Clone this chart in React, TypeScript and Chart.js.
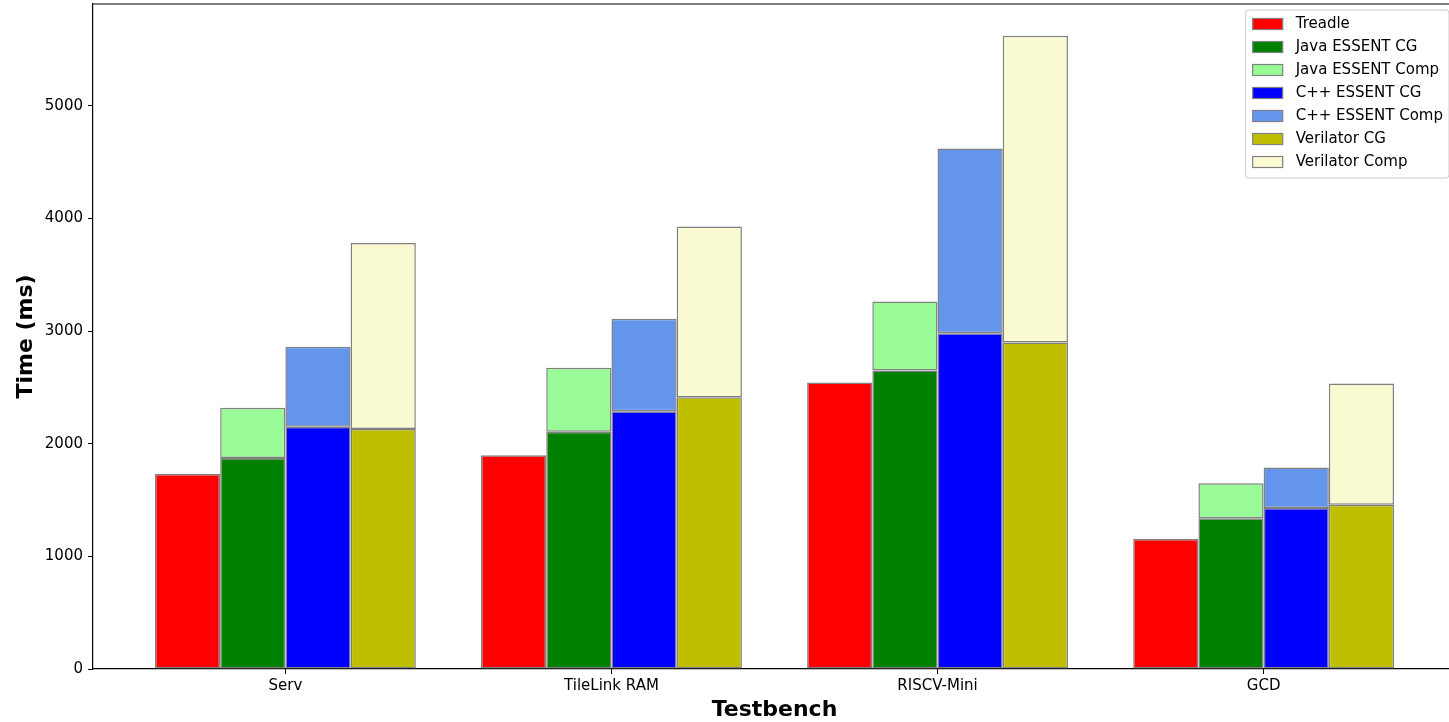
import React, { useEffect, useRef } from 'react';
import { Chart, registerables } from 'chart.js';

Chart.register(...registerables);

const categories = ['Serv', 'TileLink RAM', 'RISCV-Mini', 'GCD'];
const treadle = [1730, 1898, 2543, 1155];
const javaCG = [1872, 2105, 2649, 1338];
const javaComp = [448, 568, 613, 311];
const cppCG = [2150, 2289, 2981, 1430];
const cppComp = [710, 819, 1640, 358];
const verCG = [2131, 2413, 2898, 1459];
const verComp = [1651, 1515, 2724, 1075];
const yTicks = [0, 1000, 2000, 3000, 4000, 5000];

const FONT = "'DejaVu Sans', sans-serif";

const legendPlugin = {
  id: 'mplLegend',
  afterDraw(chart: any) {
    const { ctx, chartArea } = chart;
    const ds = chart.data.datasets;
    ctx.save();
    ctx.font = `15px ${FONT}`;
    const maxW = Math.max(...ds.map((d: any) => ctx.measureText(d.label).width));
    const w = 7 + 30 + 13 + maxW + 6;
    const right = chartArea.right - 7;
    const left = right - w;
    const top = chartArea.top + 6;
    const rowH = 23;
    const h = 14 + (ds.length - 1) * rowH + 16;
    const r = 3;
    ctx.beginPath();
    ctx.moveTo(left + r, top);
    ctx.lineTo(left + w - r, top);
    ctx.arcTo(left + w, top, left + w, top + r, r);
    ctx.lineTo(left + w, top + h - r);
    ctx.arcTo(left + w, top + h, left + w - r, top + h, r);
    ctx.lineTo(left + r, top + h);
    ctx.arcTo(left, top + h, left, top + h - r, r);
    ctx.lineTo(left, top + r);
    ctx.arcTo(left, top, left + r, top, r);
    ctx.closePath();
    ctx.fillStyle = 'rgba(255,255,255,0.8)';
    ctx.fill();
    ctx.strokeStyle = '#cccccc';
    ctx.lineWidth = 1;
    ctx.stroke();
    ds.forEach((d: any, i: number) => {
      const cy = top + 14 + i * rowH;
      ctx.fillStyle = d.backgroundColor;
      ctx.fillRect(left + 7, cy - 5.5, 30, 11);
      ctx.strokeStyle = '#808080';
      ctx.lineWidth = 1.2;
      ctx.strokeRect(left + 7, cy - 5.5, 30, 11);
      ctx.fillStyle = '#000';
      ctx.textBaseline = 'middle';
      ctx.textAlign = 'left';
      ctx.fillText(d.label, left + 50, cy);
    });
    ctx.restore();
  },
};

const framePlugin = {
  id: 'frame',
  afterDraw(chart: any) {
    const { ctx, chartArea } = chart;
    ctx.save();
    ctx.strokeStyle = '#000';
    ctx.lineWidth = 1.2;
    ctx.beginPath();
    ctx.moveTo(chartArea.left, chartArea.top);
    ctx.lineTo(chartArea.right, chartArea.top);
    ctx.lineTo(chartArea.right, chartArea.bottom);
    ctx.stroke();
    ctx.restore();
  },
};

export default function App() {
  const ref = useRef<HTMLCanvasElement>(null);
  useEffect(() => {
    const canvas = ref.current!;
    const mk = (label: string, data: number[], color: string, stack: string) => ({
      label,
      data: data.map((v, i) => ({ x: i, y: v })),
      backgroundColor: color,
      borderColor: '#808080',
      borderWidth: 1.5,
      borderSkipped: false,
      stack,
      categoryPercentage: 0.8,
      barPercentage: 1,
    });
    const chart = new Chart(canvas, {
      type: 'bar',
      data: {
        datasets: [
          mk('Treadle', treadle, '#ff0000', 's0'),
          mk('Java ESSENT CG', javaCG, '#008000', 's1'),
          mk('Java ESSENT Comp', javaComp, '#98fb98', 's1'),
          mk('C++ ESSENT CG', cppCG, '#0000ff', 's2'),
          mk('C++ ESSENT Comp', cppComp, '#6495ed', 's2'),
          mk('Verilator CG', verCG, '#bfbf00', 's3'),
          mk('Verilator Comp', verComp, '#fafad2', 's3'),
        ] as any,
      },
      options: {
        animation: false,
        responsive: false,
        devicePixelRatio: 1,
        layout: { padding: { left: 0, top: 4, right: 4, bottom: 0 } },
        plugins: { legend: { display: false }, tooltip: { enabled: false } },
        scales: {
          x: {
            type: 'linear',
            min: -0.59,
            max: 3.59,
            offset: false,
            z: 1,
            grid: { display: true, drawOnChartArea: false, drawTicks: true, tickLength: 5, color: '#000', offset: false },
            border: { display: true, color: '#000', width: 1.2 },
            afterBuildTicks: (s: any) => {
              s.ticks = categories.map((_, i) => ({ value: i }));
            },
            afterFit: (s: any) => {
              s.height = 53;
              s.paddingLeft = 0;
              s.paddingRight = 0;
              s.paddingTop = 0;
              s.paddingBottom = 0;
            },
            ticks: {
              maxRotation: 0,
              autoSkip: false,
              padding: 3,
              color: '#000',
              font: { family: FONT, size: 15 },
              callback: (v: any) => categories[Math.round(Number(v))] ?? '',
            },
            title: {
              display: true,
              text: 'Testbench',
              color: '#000',
              font: { family: FONT, size: 22, weight: 'bold' },
              padding: { top: 0, bottom: -1 },
            },
          },
          y: {
            type: 'linear',
            min: 0,
            max: 5903,
            z: 1,
            grid: { display: true, drawOnChartArea: false, drawTicks: true, tickLength: 5, color: '#000' },
            border: { display: true, color: '#000', width: 1.2 },
            afterBuildTicks: (s: any) => {
              s.ticks = yTicks.map((v) => ({ value: v }));
            },
            afterFit: (s: any) => {
              s.width = 93;
              s.paddingLeft = 0;
              s.paddingRight = 0;
              s.paddingTop = 0;
              s.paddingBottom = 0;
            },
            ticks: {
              padding: 5,
              color: '#000',
              font: { family: FONT, size: 15 },
              callback: (v: any) => String(v),
            },
            title: {
              display: true,
              text: 'Time (ms)',
              color: '#000',
              font: { family: FONT, size: 22, weight: 'bold' },
              padding: { top: 13, bottom: 0 },
            },
          },
        },
      } as any,
      plugins: [framePlugin, legendPlugin],
    });
    return () => chart.destroy();
  }, []);
  return (
    <div
      style={{
        position: 'fixed',
        left: 0,
        top: 0,
        width: 1449,
        height: 722,
        overflow: 'hidden',
        background: '#fff',
      }}
    >
      <canvas ref={ref} width={1460} height={722} style={{ display: 'block', width: 1460, height: 722 }} />
    </div>
  );
}
